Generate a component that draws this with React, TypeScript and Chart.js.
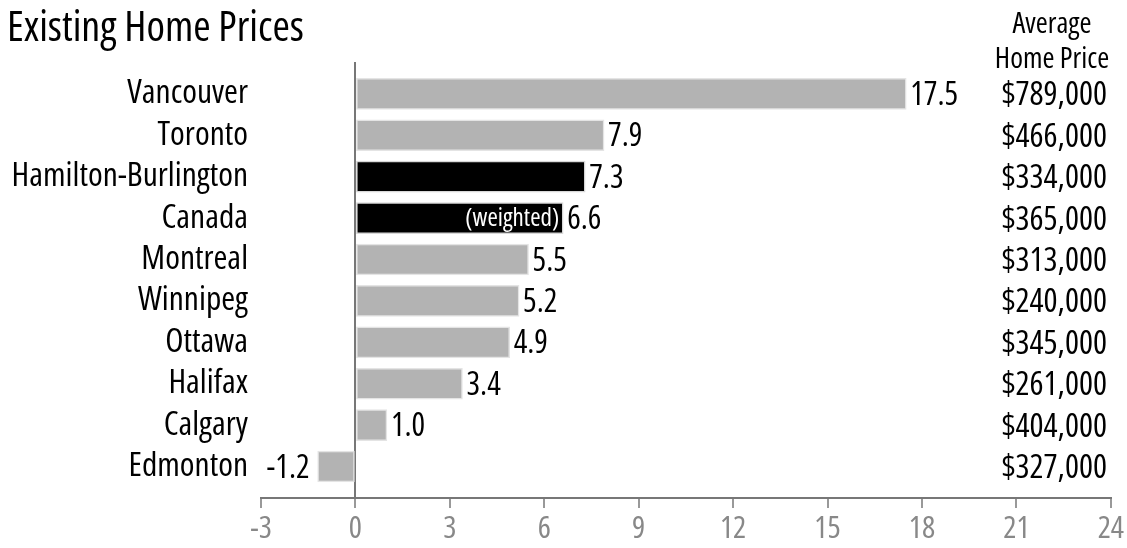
import React, { useEffect, useRef } from "react";
import { Chart, registerables } from "chart.js";

Chart.register(...registerables);

const cities = ["Vancouver", "Toronto", "Hamilton-Burlington", "Canada", "Montreal", "Winnipeg", "Ottawa", "Halifax", "Calgary", "Edmonton"];
const changes = [17.5, 7.9, 7.3, 6.6, 5.5, 5.2, 4.9, 3.4, 1.0, -1.2];
const prices = ["$789,000", "$466,000", "$334,000", "$365,000", "$313,000", "$240,000", "$345,000", "$261,000", "$404,000", "$327,000"];
const highlighted = ["Hamilton-Burlington", "Canada"];
const xTicks = [-3, 0, 3, 6, 9, 12, 15, 18, 21, 24];
const title = "Existing Home Prices";
const priceHeader = ["Average", "Home Price"];
const innerNote = "(weighted)";

const FONT = "'Open Sans', 'Roboto Condensed', 'DejaVu Sans Condensed', sans-serif";
const WEIGHT = "normal condensed";
const f = (size: number) => `${WEIGHT} ${size}px ${FONT}`;

export default function App() {
  const ref = useRef<HTMLCanvasElement | null>(null);

  useEffect(() => {
    if (!ref.current) return;
    const overlay = {
      id: "overlay",
      afterDatasetsDraw(chart: any) {
        const ctx = chart.ctx;
        const meta = chart.getDatasetMeta(0);
        ctx.save();
        ctx.fillStyle = "#000";
        ctx.font = f(42);
        ctx.textAlign = "left";
        ctx.textBaseline = "alphabetic";
        ctx.fillText(title, 7, 41);
        ctx.font = f(29);
        ctx.textAlign = "center";
        ctx.fillText(priceHeader[0], 1052, 33);
        ctx.fillText(priceHeader[1], 1052, 68);
        meta.data.forEach((bar: any, i: number) => {
          const v = changes[i];
          const y = bar.y;
          ctx.textBaseline = "middle";
          ctx.font = f(32);
          ctx.fillStyle = "#000";
          const label = v.toFixed(1);
          if (v >= 0) {
            ctx.textAlign = "left";
            ctx.fillText(label, bar.x + 4, y + 2);
          } else {
            ctx.textAlign = "right";
            ctx.fillText(label, bar.x - 8, y + 2);
          }
          ctx.textAlign = "right";
          ctx.font = f(33);
          ctx.fillText(prices[i], 1107, y + 2);
          if (cities[i] === "Canada") {
            ctx.fillStyle = "#fff";
            ctx.font = f(25);
            ctx.fillText(innerNote, bar.x - 4, y + 1);
          }
        });
        ctx.restore();
      },
    };

    const chart = new Chart(ref.current, {
      type: "bar",
      data: {
        datasets: [
          {
            data: changes.map((v, i) => ({ x: v, y: i })),
            backgroundColor: cities.map((c) => (highlighted.includes(c) ? "#000000" : "#b3b3b3")),
            borderColor: cities.map((c) => (highlighted.includes(c) ? "#d8d8d8" : "#e4e4e4")),
            borderWidth: 1.5,
            borderSkipped: false,
            barThickness: 31,
          },
        ],
      },
      options: {
        indexAxis: "y",
        animation: false,
        responsive: false,
        events: [],
        layout: { padding: { top: 62, right: 14, left: 0, bottom: 0 } },
        plugins: { legend: { display: false }, tooltip: { enabled: false }, title: { display: false } },
        scales: {
          x: {
            type: "linear",
            min: -3,
            max: 24,
            afterBuildTicks: (s: any) => {
              s.ticks = xTicks.map((v) => ({ value: v }));
            },
            afterFit: (s: any) => {
              s.height = 50;
            },
            border: { display: true, color: "#777", width: 2 },
            grid: {
              drawOnChartArea: true,
              color: (c: any) => (c.tick && c.tick.value === 0 ? "#777" : "rgba(0,0,0,0)"),
              lineWidth: 2,
              tickColor: "#777",
              tickLength: 10,
              tickWidth: 1.5,
            },
            ticks: { color: "#888", font: { family: FONT, size: 31, weight: WEIGHT }, padding: 3, maxRotation: 0 },
          },
          y: {
            type: "linear",
            reverse: true,
            offset: false,
            min: -0.77,
            max: 9.76,
            afterBuildTicks: (s: any) => {
              s.ticks = cities.map((_, i) => ({ value: i }));
            },
            afterFit: (s: any) => {
              s.width = 261;
            },
            border: { display: false },
            grid: { display: false, drawTicks: false },
            ticks: {
              color: "#000",
              font: { family: FONT, size: 33.5, weight: WEIGHT },
              padding: 13,
              callback: (v: any) => cities[v as number] ?? "",
            },
          },
        },
      },
      plugins: [overlay],
    } as any);
    return () => chart.destroy();
  }, []);

  return (
    <div style={{ position: "fixed", left: 0, top: 0, width: 1127, height: 548, background: "#fff" }}>
      <canvas ref={ref} width={1127} height={548} style={{ display: "block" }} />
    </div>
  );
}
